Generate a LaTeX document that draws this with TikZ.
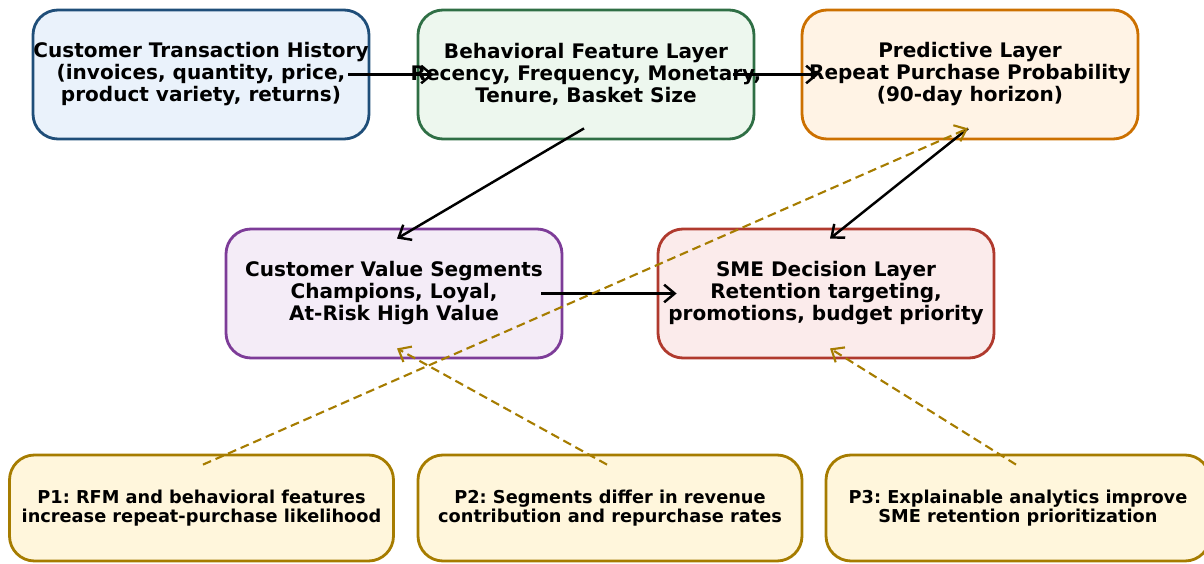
\documentclass[tikz,border=0pt]{standalone}
\usepackage{fontspec}
\setmainfont{DejaVu Sans}
\usetikzlibrary{arrows.meta,calc}

\definecolor{transline}{HTML}{1F4E79}
\definecolor{transfill}{HTML}{EAF2FB}
\definecolor{featline}{HTML}{2F6F45}
\definecolor{featfill}{HTML}{EDF7EE}
\definecolor{predline}{HTML}{CC7000}
\definecolor{predfill}{HTML}{FFF3E5}
\definecolor{segline}{HTML}{7D3C98}
\definecolor{segfill}{HTML}{F4ECF7}
\definecolor{decline}{HTML}{B03A2E}
\definecolor{decfill}{HTML}{FBEBEB}
\definecolor{propline}{HTML}{A67C00}
\definecolor{propfill}{HTML}{FFF6DC}

\tikzset{
  layerbox/.style={draw, rounded corners=0.5cm, line width=1.6pt,
    minimum width=6.72cm, minimum height=2.58cm,
    inner xsep=-0.4cm, inner ysep=0pt,
    align=center, font=\fontsize{11.4}{12.5}\selectfont\bfseries},
  propbox/.style={layerbox, draw=propline, fill=propfill,
    minimum width=7.68cm, minimum height=2.12cm,
    font=\fontsize{10.1}{10.9}\selectfont\bfseries},
  flow/.style={-{Straight Barb[length=6pt,width=10pt]}, line width=1.4pt},
  support/.style={flow, draw=propline, line width=1.2pt,
    dash pattern=on 5pt off 2.8pt},
}

\begin{document}
\frenchspacing
\begin{tikzpicture}
% \clip (0,0) rectangle (24.08,-11.26);
\useasboundingbox (0,0) rectangle (24.08,-11.26);
\clip (0,0) rectangle (24.08,-11.26);

% Drawing layer boxes
\node [layerbox, draw=transline, fill=transfill] (trans) at (4.02,-1.49)
  {Customer Transaction History\\(invoices, quantity, price,\\product variety, returns)};
\node [layerbox, draw=featline, fill=featfill] (feat) at (11.72,-1.49)
  {Behavioral Feature Layer\\Recency, Frequency, Monetary,\\Tenure, Basket Size};
\node [layerbox, draw=predline, fill=predfill] (pred) at (19.40,-1.49)
  {Predictive Layer\\Repeat Purchase Probability\\(90-day horizon)};
\node [layerbox, draw=segline, fill=segfill] (seg) at (7.88,-5.87)
  {Customer Value Segments\\Champions, Loyal,\\At-Risk High Value};
\node [layerbox, draw=decline, fill=decfill] (dec) at (16.52,-5.87)
  {SME Decision Layer\\Retention targeting,\\promotions, budget priority};

% Drawing proposition boxes
\node [propbox] (p1) at (4.03,-10.16)
  {P1: RFM and behavioral features\\increase repeat-purchase likelihood};
\node [propbox] (p2) at (12.20,-10.16)
  {P2: Segments differ in revenue\\contribution and repurchase rates};
\node [propbox] (p3) at (20.36,-10.16)
  {P3: Explainable analytics improve\\SME retention prioritization};

% Drawing flow arrows
\draw [flow] ($(trans.east)+(-0.44,0)$) -- ($(feat.west)+(0.34,0)$);
\draw [flow] ($(feat.east)+(-0.44,0)$) -- ($(pred.west)+(0.36,0)$);
\draw [flow] ($(feat.south)+(-0.04,0.24)$) -- ($(seg.north)+(0.06,-0.22)$);
\draw [flow] ($(pred.south)+(-0.04,0.24)$) -- ($(dec.north)+(0.08,-0.22)$);
\draw [flow] ($(seg.east)+(-0.44,0)$) -- ($(dec.west)+(0.40,0)$);

% Drawing proposition links
\draw [support] ($(p1.north)+(0.03,-0.22)$) -- ($(pred.south)+(-0.04,0.24)$);
\draw [support] ($(p2.north)+(-0.06,-0.22)$) -- ($(seg.south)+(0.06,0.22)$);
\draw [support] ($(p3.north)+(-0.04,-0.22)$) -- ($(dec.south)+(0.08,0.22)$);
\end{tikzpicture}
\end{document}
